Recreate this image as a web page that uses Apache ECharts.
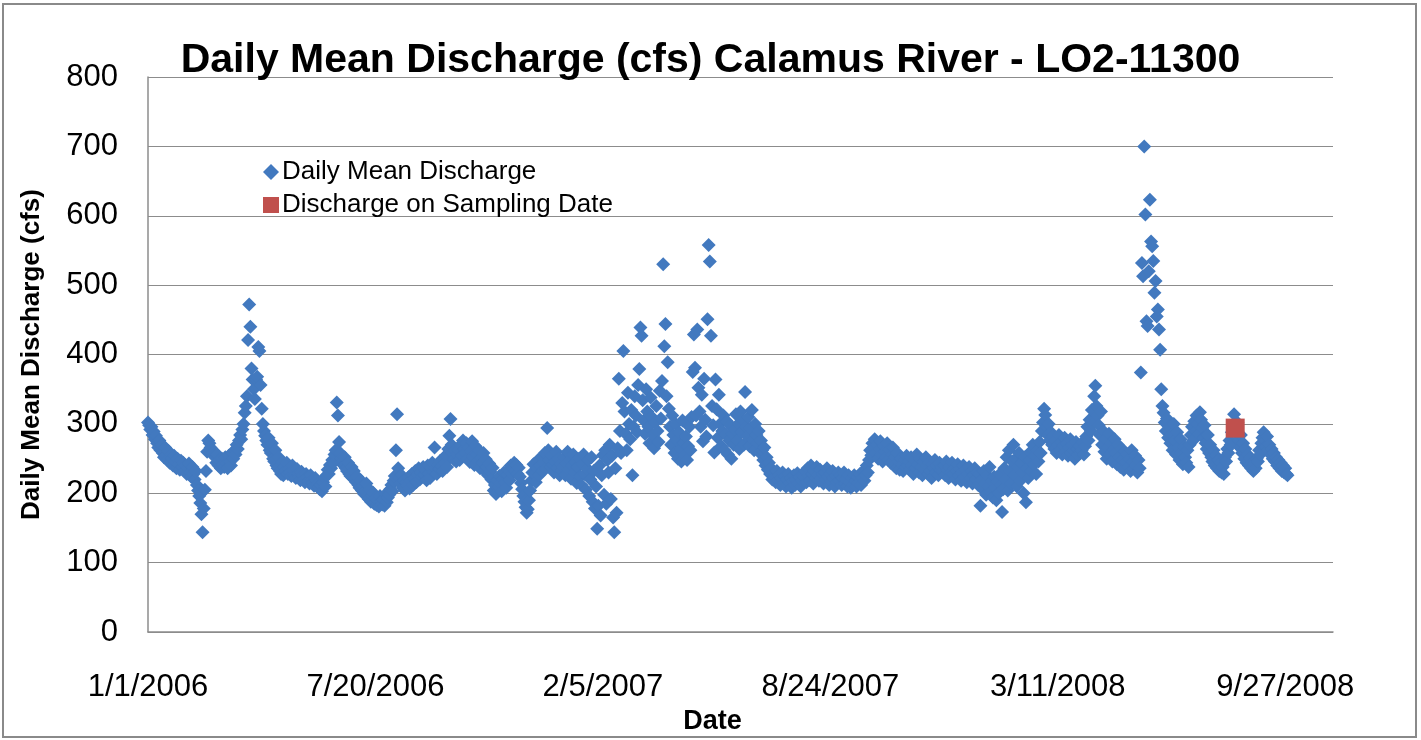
<!DOCTYPE html>
<html>
<head>
<meta charset="utf-8">
<script src="https://cdn.jsdelivr.net/npm/echarts@6/dist/echarts.min.js"></script>
<style>
  html, body { margin: 0; padding: 0; background: #ffffff; }
  #chart { width: 1421px; height: 740px; }
</style>
</head>
<body>
<div id="chart"></div>
<script>
// Calamus River (station LO2-11300) daily mean discharge, cfs, one value per day from 1 Jan 2006
const startDate = Date.UTC(2006, 0, 1);

const q2006 = [
  // Jan
  302, 298, 292, 296, 284, 289, 278, 283, 272, 266, 276, 262, 270, 258, 252, 266, 255, 248, 261, 244, 256, 250, 240, 254, 246, 236, 250, 242, 234, 247, 238,
  // Feb
  244, 232, 240, 228, 236, 243, 230, 224, 238, 228, 220, 232, 212, 204, 196, 186, 170, 144, 178, 205, 232, 260, 276, 272, 266, 262, 258, 255,
  // Mar
  252, 244, 256, 240, 248, 236, 250, 242, 238, 252, 244, 236, 254, 246, 240, 258, 250, 262, 256, 270, 264, 276, 284, 278, 292, 300, 316, 326, 340, 421, 472,
  // Apr
  440, 380, 364, 350, 336, 364, 368, 411, 405, 356, 322, 300, 290, 283, 276, 270, 280, 262, 258, 272, 250, 246, 262, 240, 236, 252, 232, 228, 245, 226,
  // May
  238, 232, 244, 228, 236, 230, 225, 240, 233, 226, 222, 235, 229, 224, 219, 231, 226, 220, 216, 228, 223, 218, 214, 226, 220, 215, 211, 222, 218, 213, 209,
  // Jun
  206, 212, 203, 216, 222, 210, 226, 234, 228, 241, 236, 248, 244, 256, 262, 331, 312, 274, 258, 250, 246, 240, 252, 236, 232, 244, 228, 225, 238, 222,
  // Jul
  232, 221, 216, 224, 212, 208, 219, 204, 211, 199, 203, 214, 196, 192, 205, 188, 197, 201, 185, 193, 183, 190, 181, 196, 188, 184, 191, 182, 199, 187, 194,
  // Aug
  198, 206, 212, 203, 218, 225, 262, 314, 236, 222, 214, 226, 208, 219, 204, 216, 211, 223, 207, 218, 228, 212, 221, 232, 216, 226, 236, 220, 230, 224, 238,
  // Sep
  226, 234, 219, 240, 229, 222, 237, 244, 231, 266, 236, 228, 242, 235, 247, 239, 232, 250, 244, 255, 238, 264, 283, 307, 270, 258, 249, 262, 246, 256,
  // Oct
  262, 248, 270, 255, 276, 264, 258, 272, 250, 266, 245, 260, 275, 253, 241, 268, 256, 247, 262, 236, 251, 244, 258, 232, 249, 238, 226, 243, 231, 220, 237,
  // Nov
  204, 212, 199, 218, 209, 225, 214, 203, 221, 230, 216, 208, 226, 234, 219, 240, 228, 236, 244, 232, 241, 228, 237, 224, 215, 206, 196, 188, 180, 172,
  // Dec
  177, 190, 204, 218, 230, 242, 228, 216, 236, 248, 226, 240, 252, 232, 244, 258, 236, 294, 262, 248, 238, 255, 242, 230, 246, 260, 236, 250, 226, 242, 233
];

const q2007 = [
  // Jan
  238, 252, 226, 244, 260, 234, 248, 221, 240, 256, 230, 245, 215, 238, 250, 224, 212, 242, 256, 228, 205, 236, 248, 196, 220, 252, 188, 232, 178, 210, 149,
  // Feb
  182, 240, 168, 226, 255, 198, 262, 185, 248, 230, 270, 192, 254, 165, 144, 236, 172, 265, 365, 290, 258, 330, 405, 318, 286, 262, 345, 300,
  // Mar
  278, 320, 226, 296, 340, 312, 288, 356, 379, 439, 427, 334, 305, 286, 350, 318, 296, 272, 338, 310, 284, 265, 302, 326, 290, 274, 348, 308, 362, 530, 412,
  // Apr
  444, 340, 389, 322, 296, 270, 312, 284, 258, 300, 276, 250, 288, 264, 246, 305, 272, 255, 282, 248, 268, 296, 262, 310, 375, 429, 381, 312, 436, 352,
  // May
  318, 296, 342, 275, 365, 306, 282, 451, 558, 534, 427, 326, 298, 259, 364, 321, 280, 342, 300, 268, 290, 312, 262, 285, 304, 256, 276, 298, 250, 286, 270,
  // Jun
  292, 314, 276, 300, 264, 318, 288, 306, 270, 346, 296, 282, 310, 268, 294, 320, 278, 262, 300, 284, 272, 290, 258, 276, 262, 248, 266, 240, 252, 234,
  // Jul
  244, 228, 236, 220, 230, 224, 216, 232, 218, 226, 212, 222, 230, 214, 224, 210, 220, 228, 215, 222, 208, 218, 226, 212, 220, 229, 214, 224, 210, 218, 226,
  // Aug
  224, 232, 216, 236, 226, 219, 240, 228, 214, 232, 222, 238, 226, 218, 234, 221, 228, 214, 230, 220, 236, 224, 212, 228, 218, 232, 222, 210, 226, 216, 230,
  // Sep
  218, 226, 212, 222, 230, 214, 220, 210, 226, 216, 208, 222, 212, 226, 218, 210, 224, 215, 228, 212, 222, 232, 218, 226, 240, 230, 248, 262, 255, 272,
  // Oct
  266, 278, 258, 270, 250, 264, 275, 256, 246, 268, 260, 252, 272, 248, 262, 244, 256, 266, 240, 252, 236, 258, 246, 234, 250, 242, 232, 248, 238, 254, 240,
  // Nov
  246, 234, 252, 240, 228, 248, 236, 256, 242, 230, 250, 238, 226, 246, 234, 252, 240, 228, 244, 232, 222, 242, 236, 248, 230, 240, 226, 244, 234, 238,
  // Dec
  232, 240, 226, 246, 234, 222, 238, 230, 244, 228, 236, 220, 232, 242, 226, 236, 218, 230, 240, 224, 234, 216, 228, 238, 222, 232, 214, 226, 236, 220, 230
];

const q2008 = [
  // Jan
  212, 228, 182, 220, 206, 232, 214, 198, 226, 210, 238, 202, 218, 194, 224, 208, 190, 216, 200, 228, 212, 173, 206, 236, 220, 252, 204, 262, 232, 214, 246,
  // Feb
  270, 226, 250, 210, 238, 258, 218, 244, 230, 200, 252, 187, 236, 222, 248, 260, 232, 270, 242, 254, 228, 262, 246, 274, 258, 290, 302, 322, 313,
  // Mar
  296, 284, 300, 276, 288, 270, 282, 264, 276, 258, 270, 284, 262, 274, 256, 268, 280, 260, 272, 254, 266, 278, 258, 270, 262, 250, 274, 264, 256, 268, 258,
  // Apr
  262, 274, 256, 268, 282, 296, 276, 306, 290, 320, 300, 340, 355, 326, 312, 298, 284, 318, 270, 290, 260, 278, 250, 266, 286, 256, 272, 246, 262, 278,
  // May
  258, 242, 270, 252, 238, 264, 248, 234, 260, 244, 256, 238, 250, 232, 262, 246, 236, 254, 240, 230, 248, 236, 374, 532, 513, 700, 602, 448, 441, 520, 623,
  // Jun
  563, 556, 535, 489, 506, 455, 465, 436, 407, 350, 326, 316, 302, 290, 308, 280, 296, 272, 286, 262, 300, 276, 256, 288, 266, 248, 278, 258, 242, 268,
  // Jul
  252, 244, 262, 238, 270, 284, 296, 276, 304, 290, 312, 300, 286, 317, 306, 294, 280, 298, 272, 264, 284, 258, 270, 252, 246, 262, 240, 254, 236, 248, 232,
  // Aug
  244, 230, 238, 228, 252, 246, 264, 258, 276, 270, 288, 298, 314, 294, 286, 302, 276, 266, 284, 258, 272, 250, 264, 244, 256, 240, 250, 236, 244, 232, 242,
  // Sep (through the 29th)
  236, 250, 246, 262, 256, 272, 280, 288, 276, 268, 282, 262, 270, 256, 264, 250, 258, 246, 252, 240, 248, 236, 244, 232, 240, 230, 236, 228, 226
];

// discharge measured on the water-quality sampling date
const sampleDates = ['2008-08-14'];
const sampleValues = [294];

const DAY = 86400000;
const dayOf = s => Math.round((Date.parse(s) - startDate) / DAY);
const fmtDay = d => {
  const dt = new Date(startDate + d * DAY);
  return (dt.getUTCMonth() + 1) + '/' + dt.getUTCDate() + '/' + dt.getUTCFullYear();
};

const daily = [].concat(q2006, q2007, q2008).map((v, i) => [i, v]);
const samples = sampleDates.map((s, i) => [dayOf(s), sampleValues[i]]);

const FONT = '"Liberation Sans", Arial, sans-serif';
const GRID_GREY = '#8c8c8c';

const chart = echarts.init(document.getElementById('chart'), null, { renderer: 'canvas' });
chart.setOption({
  backgroundColor: '#ffffff',
  animation: false,
  textStyle: { fontFamily: FONT },
  title: {
    text: 'Daily Mean Discharge (cfs) Calamus River - LO2-11300',
    left: 'center',
    top: 35,
    textStyle: { fontFamily: FONT, fontWeight: 'bold', fontSize: 41, color: '#000' }
  },
  graphic: [{
    type: 'rect',
    shape: { x: 3, y: 4, width: 1413, height: 733 },
    style: { fill: 'none', stroke: '#8a8a8a', lineWidth: 2 },
    silent: true
  }],
  legend: {
    orient: 'vertical',
    left: 258,
    top: 154,
    itemGap: 7,
    itemWidth: 16,
    itemHeight: 16,
    data: [
      { name: 'Daily Mean Discharge', icon: 'diamond' },
      { name: 'Discharge on Sampling Date', icon: 'rect' }
    ],
    textStyle: { fontFamily: FONT, fontSize: 26, color: '#000', padding: [0, 0, 0, -2] }
  },
  grid: { left: 148, right: 88, top: 77, bottom: 107 },
  xAxis: {
    type: 'value',
    min: 0,
    max: 1042,
    interval: 200,
    name: 'Date',
    nameLocation: 'middle',
    nameGap: 74,
    nameTextStyle: { fontFamily: FONT, fontWeight: 'bold', fontSize: 27, color: '#000', padding: [0, 56, 0, 0] },
    axisLine: { show: true, lineStyle: { color: GRID_GREY, width: 1.5 } },
    axisTick: { show: false },
    splitLine: { show: false },
    axisLabel: {
      margin: 40,
      fontFamily: FONT,
      fontSize: 31,
      color: '#000',
      showMaxLabel: false,
      formatter: v => fmtDay(v)
    }
  },
  yAxis: {
    type: 'value',
    min: 0,
    max: 800,
    interval: 100,
    name: 'Daily Mean Discharge (cfs)',
    nameLocation: 'middle',
    nameGap: 103,
    nameTextStyle: { fontFamily: FONT, fontWeight: 'bold', fontSize: 26, color: '#000' },
    axisLine: { show: true, lineStyle: { color: GRID_GREY, width: 1.5 } },
    axisTick: { show: false },
    splitLine: { show: true, lineStyle: { color: GRID_GREY, width: 1.2 } },
    axisLabel: { margin: 30, fontFamily: FONT, fontSize: 31, color: '#000' }
  },
  series: [
    {
      name: 'Daily Mean Discharge',
      type: 'scatter',
      symbol: 'diamond',
      symbolSize: 14,
      itemStyle: { color: '#4279bf', opacity: 1 },
      data: daily
    },
    {
      name: 'Discharge on Sampling Date',
      type: 'scatter',
      symbol: 'rect',
      symbolSize: 19,
      itemStyle: { color: '#c0504d', opacity: 1 },
      data: samples
    }
  ]
});
</script>
</body>
</html>
